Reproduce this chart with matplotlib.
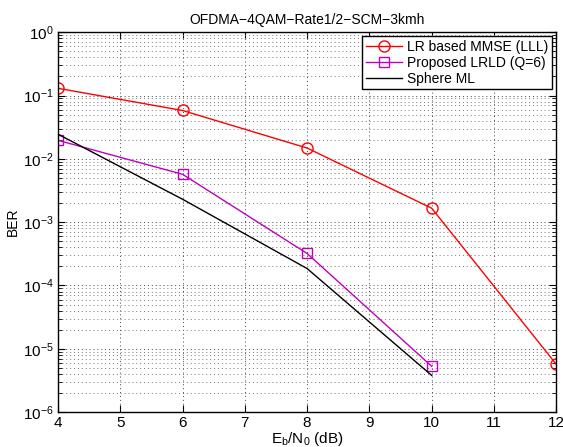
import matplotlib
matplotlib.use('Agg')
import matplotlib.pyplot as plt
from matplotlib.ticker import LogLocator, NullFormatter

plt.rcParams['font.family'] = ['Liberation Sans', 'DejaVu Sans']

# donnees
snr_mmse = [4, 6, 8, 10, 12]
ber_mmse = [0.13, 0.058, 0.0148, 0.00166, 5.7e-6]
snr_lrld = [4, 6, 8, 10]
ber_lrld = [0.0196, 0.0057, 3.2e-4, 5.3e-6]
snr_ml = [4, 6, 8, 10]
ber_ml = [0.0245, 0.0023, 1.85e-4, 3.8e-6]

fig = plt.figure(figsize=(5.63, 4.47), dpi=100)
ax = fig.add_axes([0.103, 0.078, 0.885, 0.85])

ax.semilogy(snr_mmse, ber_mmse, color='red', marker='o', markersize=8,
            markerfacecolor='none', linewidth=1, label='LR based MMSE (LLL)')
ax.semilogy(snr_lrld, ber_lrld, color='#c000c0', marker='s', markersize=7,
            markerfacecolor='none', linewidth=1, label='Proposed LRLD (Q=6)')
ax.semilogy(snr_ml, ber_ml, color='black', linewidth=1, label='Sphere ML')

ax.set_xlim(4, 12)
ax.set_ylim(1e-6, 1)
ax.set_xticks(range(4, 13))
ax.yaxis.set_major_locator(LogLocator(base=10, numticks=10))
ax.yaxis.set_minor_locator(LogLocator(base=10, subs=range(2, 10), numticks=20))
ax.yaxis.set_minor_formatter(NullFormatter())

ax.grid(True, which='major', linestyle=(0, (1, 3)), color='#444444', linewidth=0.7)
ax.grid(True, which='minor', axis='y', linestyle=(0, (1, 3)), color='#777777', linewidth=0.7)
ax.tick_params(which='both', direction='in', top=True, right=True, labelsize=11, pad=3)
ax.tick_params(which='major', length=5)
ax.tick_params(which='minor', length=3)
for s in ax.spines.values():
    s.set_linewidth(1)

ax.set_title('OFDMA\u22124QAM\u2212Rate1/2\u2212SCM\u22123kmh', fontsize=10)
ax.set_xlabel('E$_\\mathregular{b}$/N$_\\mathregular{0}$ (dB)', fontsize=11, labelpad=0)
ax.set_ylabel('BER', fontsize=10, labelpad=2)

leg = ax.legend(loc='upper right', fontsize=10, fancybox=False, framealpha=1,
                edgecolor='black', borderpad=0.25, handlelength=2.6, handletextpad=0.4,
                labelspacing=0.15, borderaxespad=0.3)
leg.get_frame().set_linewidth(1)

fig.savefig('out.png', dpi=100)
